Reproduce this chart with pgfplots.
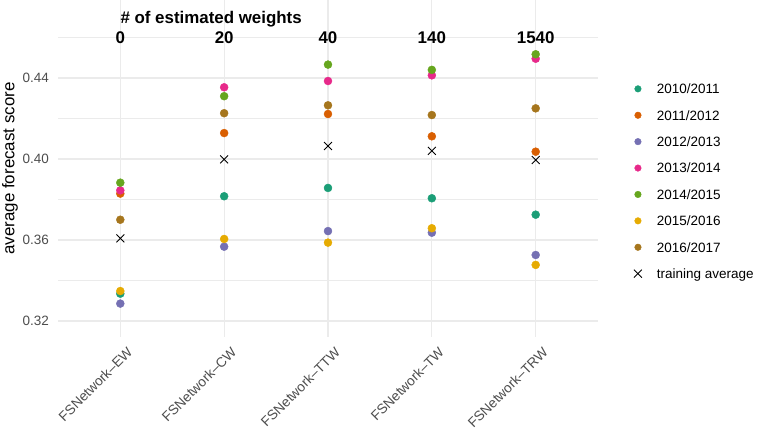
\documentclass[border=0pt]{standalone}
\usepackage{pgfplots}
\pgfplotsset{compat=1.18}
\usepackage{fontspec}
\setmainfont{Liberation Sans}
\definecolor{c1}{HTML}{1B9E77}
\definecolor{c2}{HTML}{D95F02}
\definecolor{c3}{HTML}{7570B3}
\definecolor{c4}{HTML}{E7298A}
\definecolor{c5}{HTML}{66A61E}
\definecolor{c6}{HTML}{E6AB02}
\definecolor{c7}{HTML}{A6761D}
\definecolor{gridc}{HTML}{EBEBEB}
\definecolor{tickc}{HTML}{4D4D4D}
\newcommand\smallf{\fontsize{13.5bp}{16bp}\selectfont}
\newcommand\xf{\fontsize{13.7bp}{16bp}\selectfont}
\newcommand\bigf{\fontsize{16.9bp}{20bp}\selectfont}
\pgfplotsset{dot/.style={only marks, mark=*, mark size=4bp, color=#1, legend image post style={mark size=3.3bp}}}
\begin{document}
\begin{tikzpicture}
\path[use as bounding box] (-58bp,-93bp) rectangle (702bp,337bp);
\begin{axis}[
  scale only axis,
  width=540bp, height=337bp,
  xmin=0.4, xmax=5.6,
  ymin=0.3121, ymax=0.4785,
  clip=false,
  axis line style={draw=none},
  major tick length=0pt, minor tick length=0pt,
  xtick={1,2,3,4,5},
  xticklabels={FSNetwork–EW,FSNetwork–CW,FSNetwork–TTW,FSNetwork–TW,FSNetwork–TRW},
  ytick={0.32,0.36,0.40,0.44},
  yticklabels={0.32,0.36,0.40,0.44},
  minor ytick={0.34,0.38,0.42,0.46},
  xmajorgrids, ymajorgrids, yminorgrids,
  major grid style={draw=gridc, line width=1.1bp},
  minor grid style={draw=gridc, line width=0.6bp},
  /pgf/number format/assume math mode=true,
  ticklabel style={font=\smallf, color=tickc},
  xticklabel style={font=\xf, anchor=north east, inner sep=0pt, xshift=6bp, yshift=-9bp, rotate=45},
  yticklabel style={inner sep=0pt, xshift=-9bp},
  ylabel={average forecast score},
  every axis y label/.style={at={(axis description cs:0,0.5)}, xshift=-48bp, rotate=90, anchor=center, font=\bigf},
  legend image code/.code={\draw[#1] plot coordinates {(0bp,0bp)};},
  legend style={draw=none, fill=none, at={(axis description cs:1,1)}, anchor=north west,
    xshift=36bp, yshift=-84bp, inner sep=0pt, outer sep=0pt,
    row sep=16.7bp, column sep=15bp,
    nodes={inner sep=0pt, text height=9.7bp, text depth=0bp, font=\smallf}},
  legend cell align=left,
]
\addplot[dot=c1] coordinates {(1,0.3335) (2,0.3816) (3,0.3857) (4,0.3806) (5,0.3725)};
\addlegendentry{2010/2011}
\addplot[dot=c2] coordinates {(1,0.3829) (2,0.4128) (3,0.4222) (4,0.4112) (5,0.4036)};
\addlegendentry{2011/2012}
\addplot[dot=c3] coordinates {(1,0.3286) (2,0.3567) (3,0.3644) (4,0.3636) (5,0.3526)};
\addlegendentry{2012/2013}
\addplot[dot=c4] coordinates {(1,0.3845) (2,0.4354) (3,0.4385) (4,0.4413) (5,0.4495)};
\addlegendentry{2013/2014}
\addplot[dot=c5] coordinates {(1,0.3883) (2,0.4310) (3,0.4466) (4,0.4440) (5,0.4517)};
\addlegendentry{2014/2015}
\addplot[dot=c6] coordinates {(1,0.3348) (2,0.3605) (3,0.3587) (4,0.3658) (5,0.3477)};
\addlegendentry{2015/2016}
\addplot[dot=c7] coordinates {(1,0.3700) (2,0.4226) (3,0.4265) (4,0.4217) (5,0.4250)};
\addlegendentry{2016/2017}
\addplot[only marks, mark=x, mark size=5.6bp, color=black, mark options={line width=0.9bp}]
  coordinates {(1,0.3608) (2,0.3998) (3,0.4064) (4,0.4040) (5,0.3995)};
\addlegendentry{training average}
\node[font=\bigf\bfseries, anchor=west, inner sep=0pt] at (axis cs:1,0.4688) {\# of estimated weights};
\node[font=\bigf\bfseries, inner sep=0pt] at (axis cs:1,0.4598) {0};
\node[font=\bigf\bfseries, inner sep=0pt] at (axis cs:2,0.4598) {20};
\node[font=\bigf\bfseries, inner sep=0pt] at (axis cs:3,0.4598) {40};
\node[font=\bigf\bfseries, inner sep=0pt] at (axis cs:4,0.4598) {140};
\node[font=\bigf\bfseries, inner sep=0pt] at (axis cs:5,0.4598) {1540};
\end{axis}
\end{tikzpicture}
\end{document}
